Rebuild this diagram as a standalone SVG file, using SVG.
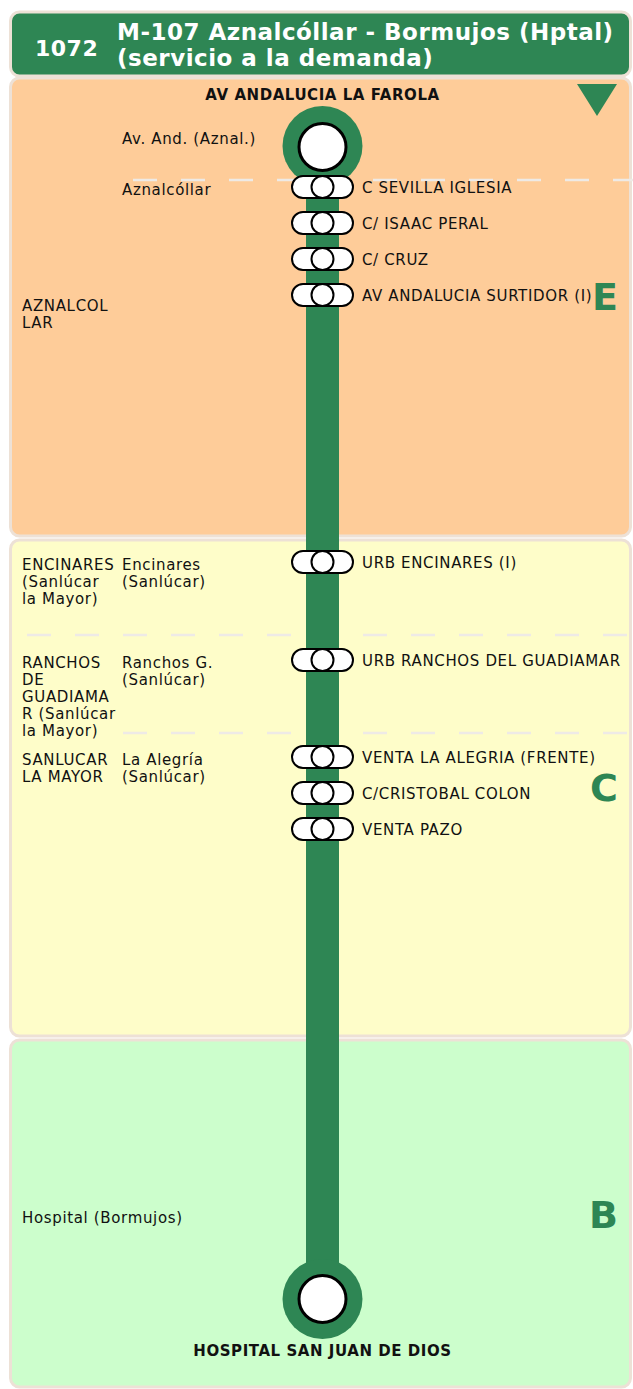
<svg xmlns="http://www.w3.org/2000/svg" width="633" height="1389" viewBox="0 0 633 1389">
<defs>
<style>
.t{font-family:"DejaVu Sans",sans-serif;font-size:15px;letter-spacing:0.65px;fill:#111}
.b{font-family:"DejaVu Sans",sans-serif;font-weight:bold;font-size:15px;letter-spacing:0.55px;fill:#111}
.h{font-family:"DejaVu Sans",sans-serif;font-weight:bold;font-size:23px;letter-spacing:0.5px;fill:#fff}
.z{font-family:"DejaVu Sans",sans-serif;font-weight:bold;font-size:38px;fill:#2e8654;text-anchor:end}
.panel{stroke:#ede1d6;stroke-width:3}
.dash{stroke:#eeeae6;stroke-width:2.5;stroke-dasharray:24 24}
.pill{fill:#fff;stroke:#000;stroke-width:2}
</style>
<g id="stop">
<rect x="-30.5" y="-11" width="61" height="22" rx="11" class="pill"/>
<circle cx="0" cy="0" r="11" class="pill"/>
</g>
</defs>
<rect x="0" y="0" width="633" height="1389" fill="#fff"/>
<g id="zones">
<rect id="zoneE" x="10.5" y="78" width="620" height="458" rx="9" fill="#fecc99" class="panel"/>
<rect id="zoneC" x="10.5" y="540" width="620" height="496" rx="9" fill="#fefdc9" class="panel"/>
<rect id="zoneB" x="10.5" y="1040" width="620" height="347" rx="9" fill="#ccfecc" class="panel"/>
</g>
<g id="header">
<rect x="10.5" y="12" width="620" height="64" rx="9" fill="#2e8654" stroke="#ede1d6" stroke-width="3"/>
<text class="h" x="35" y="56" style="font-size:22px">1072</text>
<text class="h" x="117" y="40">M-107 Aznalcóllar - Bormujos (Hptal)</text>
<text class="h" x="117" y="66">(servicio a la demanda)</text>
</g>
<g id="dividers">
<line class="dash" x1="133" y1="180" x2="633" y2="180"/>
<line class="dash" x1="27" y1="635" x2="633" y2="635"/>
<line class="dash" x1="123" y1="733" x2="633" y2="733"/>
</g>
<g id="direction">
<polygon points="577,84 617,84 597,116" fill="#2e8654"/>
</g>
<g id="zone-labels">
<text class="z" x="618" y="310">E</text>
<text class="z" x="618" y="801">C</text>
<text class="z" x="618" y="1228">B</text>
</g>
<g id="connectors">
<rect x="306" y="146" width="33" height="1153" fill="#2e8654"/>
</g>
<g id="locality-labels">
<text class="t" x="122" y="144">Av. And. (Aznal.)</text>
<text class="t" x="122" y="195">Aznalcóllar</text>
<text class="t" x="22" y="311">AZNALCOL</text>
<text class="t" x="22" y="328">LAR</text>
<text class="t" x="22" y="570">ENCINARES</text>
<text class="t" x="22" y="587">(Sanlúcar</text>
<text class="t" x="22" y="604">la Mayor)</text>
<text class="t" x="122" y="570">Encinares</text>
<text class="t" x="122" y="587">(Sanlúcar)</text>
<text class="t" x="22" y="668">RANCHOS</text>
<text class="t" x="22" y="685">DE</text>
<text class="t" x="22" y="702">GUADIAMA</text>
<text class="t" x="22" y="719">R (Sanlúcar</text>
<text class="t" x="22" y="736">la Mayor)</text>
<text class="t" x="122" y="668">Ranchos G.</text>
<text class="t" x="122" y="685">(Sanlúcar)</text>
<text class="t" x="22" y="765">SANLUCAR</text>
<text class="t" x="22" y="782">LA MAYOR</text>
<text class="t" x="122" y="765">La Alegría</text>
<text class="t" x="122" y="782">(Sanlúcar)</text>
<text class="t" x="22" y="1223">Hospital (Bormujos)</text>
</g>
<g id="terminal-start">
<circle cx="322.5" cy="146" r="40" fill="#2e8654"/>
<circle cx="322.5" cy="147" r="23.5" fill="#fff" stroke="#000" stroke-width="3"/>
<text class="b" x="322.5" y="100" text-anchor="middle">AV ANDALUCIA LA FAROLA</text>
</g>
<g id="s1"><use href="#stop" x="322.5" y="187"/><text class="t" x="362" y="193">C SEVILLA IGLESIA</text></g>
<g id="s2"><use href="#stop" x="322.5" y="223"/><text class="t" x="362" y="229">C/ ISAAC PERAL</text></g>
<g id="s3"><use href="#stop" x="322.5" y="259"/><text class="t" x="362" y="265">C/ CRUZ</text></g>
<g id="s4"><use href="#stop" x="322.5" y="295"/><text class="t" x="362" y="301">AV ANDALUCIA SURTIDOR (I)</text></g>
<g id="s5"><use href="#stop" x="322.5" y="562"/><text class="t" x="362" y="568">URB ENCINARES (I)</text></g>
<g id="s6"><use href="#stop" x="322.5" y="660"/><text class="t" x="362" y="666">URB RANCHOS DEL GUADIAMAR</text></g>
<g id="s7"><use href="#stop" x="322.5" y="757"/><text class="t" x="362" y="763">VENTA LA ALEGRIA (FRENTE)</text></g>
<g id="s8"><use href="#stop" x="322.5" y="793"/><text class="t" x="362" y="799">C/CRISTOBAL COLON</text></g>
<g id="s9"><use href="#stop" x="322.5" y="829"/><text class="t" x="362" y="835">VENTA PAZO</text></g>
<g id="terminal-end">
<circle cx="322.5" cy="1299" r="40" fill="#2e8654"/>
<circle cx="322.5" cy="1299" r="23.5" fill="#fff" stroke="#000" stroke-width="3"/>
<text class="b" x="322.5" y="1356" text-anchor="middle">HOSPITAL SAN JUAN DE DIOS</text>
</g>
</svg>
